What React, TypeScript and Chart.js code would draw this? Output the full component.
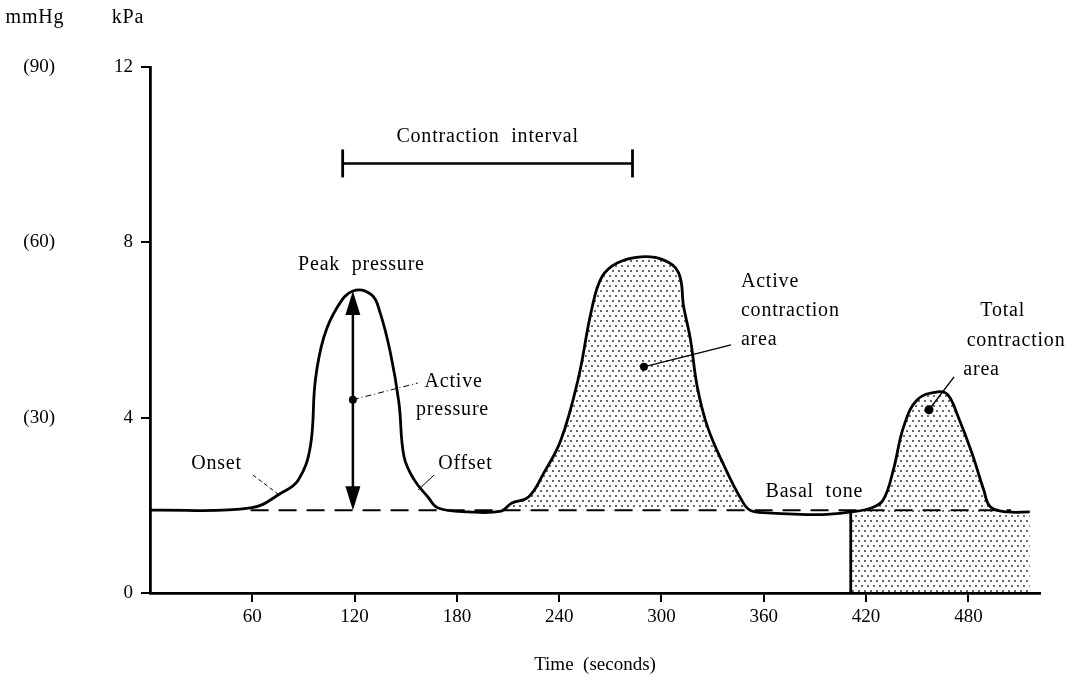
import React, { useEffect, useRef } from 'react';
import { Chart, registerables } from 'chart.js';

Chart.register(...registerables);

const FONT = "'Liberation Serif', 'Times New Roman', serif";

// ---- data ----
const timeSeconds = [
  0, 59, 77, 87, 94, 97, 102, 110, 119, 130, 135, 141, 146, 149, 155, 163, 169, 187, 206,
  212, 222, 231, 241, 251, 259, 265, 274, 288, 301, 310, 313, 317, 321, 327, 337, 347, 352, 362, 394,
  411, 423, 430, 436, 442, 450, 462, 468, 474, 482, 489, 493, 503, 516,
];
const pressureKpa = [
  1.89, 1.94, 2.28, 2.58, 3.33, 4.86, 5.84, 6.53, 6.89, 6.8, 6.39, 5.48, 4.34, 3.11, 2.58, 2.19, 1.94, 1.85, 1.87,
  2.05, 2.19, 2.74, 3.49, 4.86, 6.46, 7.21, 7.53, 7.67, 7.6, 7.31, 6.53, 5.78, 4.7, 3.79, 2.88, 2.12, 1.89, 1.83, 1.79,
  1.85, 1.94, 2.12, 2.81, 3.79, 4.41, 4.59, 4.52, 4.02, 3.2, 2.35, 1.96, 1.85, 1.85,
];
const basalTone = 1.89;
const basalLineSpan = [59, 505];
const peakPressureTime = 119;
const activeAreaSpan = [206, 352];
const totalAreaStart = 411;
const contractionInterval = [113, 283];
const contractionIntervalLevel = 9.8;

const xTicks = [60, 120, 180, 240, 300, 360, 420, 480];
const kpaTicks = [0, 4, 8, 12];
const mmHgTicks = [4, 8, 12];
const mmHgLabels = ['(30)', '(60)', '(90)'];

// leader lines: [dot point, end point]
const leaderActivePressure = [[119, 4.41], [157, 4.79]];
const leaderOnset = [[60.4, 2.69], [75.7, 2.24]];
const leaderOffset = [[166.6, 2.69], [157.2, 2.35]];
const leaderActiveArea = [[289.7, 5.16], [340.8, 5.66]];
const leaderTotalArea = [[456.9, 4.18], [471.6, 4.93]];

const textLabels = [
  { text: 'Contraction  interval', t: 198, v: 10.4, align: 'center' },
  { text: 'Peak  pressure', t: 124, v: 7.49, align: 'center' },
  { text: 'Active', t: 161, v: 4.82, align: 'left' },
  { text: 'pressure', t: 156, v: 4.18, align: 'left' },
  { text: 'Onset', t: 39, v: 2.95, align: 'center' },
  { text: 'Offset', t: 169, v: 2.95, align: 'left' },
  { text: 'Active', t: 346.6, v: 7.1, align: 'left' },
  { text: 'contraction', t: 346.6, v: 6.44, align: 'left' },
  { text: 'area', t: 346.6, v: 5.78, align: 'left' },
  { text: 'Basal  tone', t: 361, v: 2.31, align: 'left' },
  { text: 'Total', t: 487, v: 6.44, align: 'left' },
  { text: 'contraction', t: 479, v: 5.75, align: 'left' },
  { text: 'area', t: 477, v: 5.09, align: 'left' },
];

const CURVE_TENSION = 0.4;

const curvePoints = timeSeconds.map((t, i) => ({ x: t, y: pressureKpa[i] }));

function makeStipple(): CanvasPattern | string {
  const c = document.createElement('canvas');
  c.width = 6;
  c.height = 10;
  const g = c.getContext('2d');
  if (!g) return 'rgba(0,0,0,0.15)';
  g.fillStyle = '#222';
  g.beginPath();
  g.arc(1, 1, 0.9, 0, Math.PI * 2);
  g.arc(4, 6, 0.9, 0, Math.PI * 2);
  g.fill();
  const p = g.createPattern(c, 'repeat');
  return p || 'rgba(0,0,0,0.15)';
}

const annotationPlugin = {
  id: 'annotations',
  afterDatasetsDraw(chart: any) {
    const { ctx } = chart;
    const x = chart.scales.x;
    const y = chart.scales.y;
    ctx.save();
    ctx.fillStyle = '#000';
    ctx.strokeStyle = '#000';
    ctx.font = `20px ${FONT}`;
    ctx.textBaseline = 'middle';
    try { (ctx as any).letterSpacing = '0.8px'; } catch (e) {}
    for (const l of textLabels) {
      ctx.textAlign = l.align;
      ctx.fillText(l.text, x.getPixelForValue(l.t), y.getPixelForValue(l.v));
    }
    // unit headers above the two value columns
    const mm = chart.scales.mmhg;
    ctx.textAlign = 'center';
    ctx.fillText('mmHg', mm.left + 35, 18);
    ctx.fillText('kPa', y.left + 43, 18);

    // double-headed arrow for active pressure
    const peakIdx = timeSeconds.indexOf(peakPressureTime);
    const ax = x.getPixelForValue(peakPressureTime);
    const top = y.getPixelForValue(pressureKpa[peakIdx]);
    const bot = y.getPixelForValue(basalTone);
    const hw = 7.5;
    const hl = 24;
    ctx.lineWidth = 2.5;
    ctx.beginPath();
    ctx.moveTo(ax, top + hl - 2);
    ctx.lineTo(ax, bot - hl + 2);
    ctx.stroke();
    ctx.beginPath();
    ctx.moveTo(ax, top);
    ctx.lineTo(ax + hw, top + hl);
    ctx.lineTo(ax - hw, top + hl);
    ctx.closePath();
    ctx.fill();
    ctx.beginPath();
    ctx.moveTo(ax, bot);
    ctx.lineTo(ax + hw, bot - hl);
    ctx.lineTo(ax - hw, bot - hl);
    ctx.closePath();
    ctx.fill();
    ctx.restore();
  },
};

export default function App() {
  const ref = useRef<HTMLCanvasElement | null>(null);

  useEffect(() => {
    document.body.style.margin = '0';
    const canvas = ref.current;
    if (!canvas) return;
    const stipple = makeStipple();

    const activeArea = curvePoints.filter((p) => p.x >= activeAreaSpan[0] && p.x <= activeAreaSpan[1]);
    const totalArea = curvePoints.filter((p) => p.x >= totalAreaStart);
    const startIdx = timeSeconds.indexOf(totalAreaStart);

    const leader = (pts: number[][], width: number, dash: number[], dot: number) => ({
      data: pts.map((p) => ({ x: p[0], y: p[1] })),
      borderColor: '#000',
      borderWidth: width,
      borderDash: dash,
      pointRadius: [dot, 0],
      pointBackgroundColor: '#000',
      pointBorderWidth: 0,
      fill: false,
      tension: 0,
    });

    const chart = new Chart(canvas, {
      type: 'line',
      data: {
        datasets: [
          {
            data: curvePoints,
            borderColor: '#000',
            borderWidth: 2.8,
            pointRadius: 0,
            fill: false,
            tension: CURVE_TENSION,
          },
          {
            data: [
              { x: basalLineSpan[0], y: basalTone },
              { x: basalLineSpan[1], y: basalTone },
            ],
            borderColor: '#000',
            borderWidth: 2,
            borderDash: [18, 10],
            pointRadius: 0,
            fill: false,
          },
          {
            data: [
              { x: totalAreaStart, y: 0 },
              { x: totalAreaStart, y: pressureKpa[startIdx] },
            ],
            borderColor: '#000',
            borderWidth: 2.8,
            pointRadius: 0,
            fill: false,
          },
          {
            data: [
              { x: contractionInterval[0], y: contractionIntervalLevel },
              { x: contractionInterval[1], y: contractionIntervalLevel },
            ],
            borderColor: '#000',
            borderWidth: 2.5,
            pointStyle: 'line',
            pointRadius: 14,
            pointRotation: 90,
            pointBorderWidth: 2.8,
            pointBorderColor: '#000',
            fill: false,
          },
          leader(leaderActivePressure, 1, [6, 3, 1, 3], 4),
          leader(leaderOnset, 1, [4, 3], 0),
          leader(leaderOffset, 1, [], 0),
          leader(leaderActiveArea, 1.4, [], 4),
          leader(leaderTotalArea, 1.4, [], 4.5),
          {
            data: activeArea,
            borderColor: 'transparent',
            borderWidth: 0,
            pointRadius: 0,
            backgroundColor: stipple as any,
            fill: { value: basalTone },
            tension: CURVE_TENSION,
          },
          {
            data: totalArea,
            borderColor: 'transparent',
            borderWidth: 0,
            pointRadius: 0,
            backgroundColor: stipple as any,
            fill: 'origin',
            tension: CURVE_TENSION,
          },
        ] as any,
      },
      options: {
        animation: false,
        responsive: false,
        events: [],
        layout: { padding: { top: 67, right: 41, left: 0, bottom: 0 } },
        plugins: { legend: { display: false }, tooltip: { enabled: false } },
        scales: {
          x: {
            type: 'linear',
            position: 'bottom',
            min: 0,
            max: 522,
            afterBuildTicks: (s: any) => {
              s.ticks = xTicks.map((v) => ({ value: v }));
            },
            afterFit: (s: any) => {
              s.height = 83;
            },
            grid: { drawOnChartArea: false, drawTicks: true, tickLength: 9, color: '#000', lineWidth: 2 },
            border: { display: true, color: '#000', width: 2.8 },
            ticks: { color: '#000', font: { size: 19, family: FONT }, padding: 4, maxRotation: 0, autoSkip: false },
            title: {
              display: true,
              text: 'Time  (seconds)',
              color: '#000',
              font: { size: 19, family: FONT },
              padding: { top: 0, bottom: 0 },
            },
          },
          y: {
            type: 'linear',
            position: 'left',
            weight: 0,
            min: 0,
            max: 12,
            afterBuildTicks: (s: any) => {
              s.ticks = kpaTicks.map((v) => ({ value: v }));
            },
            afterFit: (s: any) => {
              s.width = 65;
            },
            grid: { drawOnChartArea: false, drawTicks: true, tickLength: 9, color: '#000', lineWidth: 2 },
            border: { display: true, color: '#000', width: 2.8 },
            ticks: { color: '#000', font: { size: 19, family: FONT }, padding: 8 },
          },
          mmhg: {
            type: 'linear',
            position: 'left',
            weight: 1,
            min: 0,
            max: 12,
            afterBuildTicks: (s: any) => {
              s.ticks = mmHgTicks.map((v) => ({ value: v }));
            },
            afterFit: (s: any) => {
              s.width = 85;
            },
            grid: { display: false, drawTicks: false },
            border: { display: false },
            ticks: {
              color: '#000',
              font: { size: 19, family: FONT },
              padding: 30,
              callback: (v: any) => {
                const i = mmHgTicks.indexOf(Number(v));
                return i >= 0 ? mmHgLabels[i] : '';
              },
            },
          },
        },
      } as any,
      plugins: [annotationPlugin as any],
    });

    return () => chart.destroy();
  }, []);

  return <canvas ref={ref} width={1081} height={676} style={{ display: 'block' }} />;
}
